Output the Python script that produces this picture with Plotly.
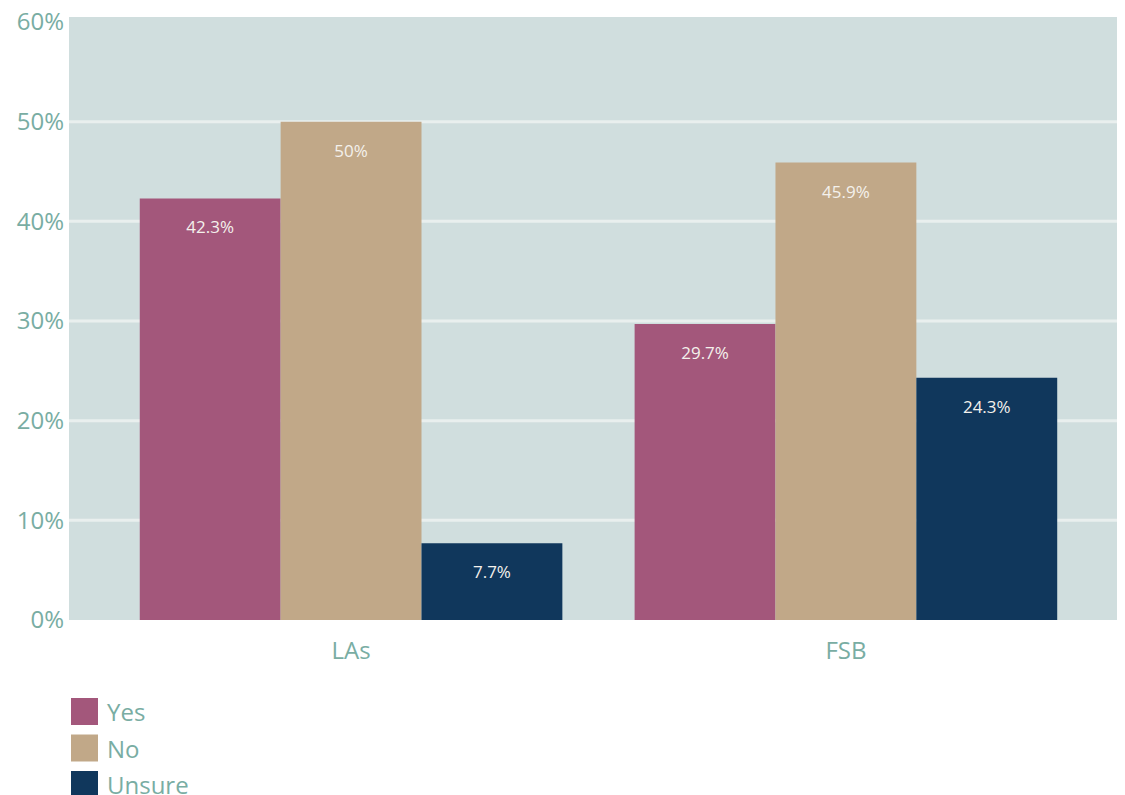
import plotly.graph_objects as go

categorias = ['LAs', 'FSB']
series = ['Yes', 'No', 'Unsure']
valores = {
    'Yes': [42.3, 29.7],
    'No': [50.0, 45.9],
    'Unsure': [7.7, 24.3],
}
etiquetas = {
    'Yes': ['42.3%', '29.7%'],
    'No': ['50%', '45.9%'],
    'Unsure': ['7.7%', '24.3%'],
}
ticks_y = [0, 10, 20, 30, 40, 50, 60]
ticks_y_texto = ['0%', '10%', '20%', '30%', '40%', '50%', '60%']
colores = {'Yes': '#a3577b', 'No': '#c1a888', 'Unsure': '#10375c'}

fuente = 'Open Sans'
verde = '#79ada3'

# la pagina tiene 8px de margen en el body
W, H = 1117, 787
L, R, T, B = 61, 0, 9, 175
plot_w = W - L - R
plot_h = H - T - B

fig = go.Figure()
for s in series:
    fig.add_trace(go.Bar(
        x=categorias, y=valores[s], name=s,
        marker=dict(color=colores[s], line=dict(width=0)),
        text=['<span style="font-size:9px"> </span><br>' + t for t in etiquetas[s]],
        textposition='inside', insidetextanchor='end',
        textfont=dict(family=fuente, size=17, color='#f4f1ec'),
        showlegend=False,
        hoverinfo='skip',
    ))

shapes = []
# lineas de grilla (sin la de 60%, que en el original no se ve)
for v in ticks_y[1:-1]:
    shapes.append(dict(type='line', xref='paper', yref='y', x0=0, x1=1, y0=v, y1=v,
                       line=dict(color='#e9efee', width=3), layer='below'))

# leyenda dibujada a mano para tener cuadrados grandes
annotations = []
for i, s in enumerate(series):
    top_px = 690 + i * 36.5
    y_top = (H - B - top_px) / plot_h
    y_bot = (H - B - top_px - 27) / plot_h
    shapes.append(dict(type='rect', xref='paper', yref='paper',
                       x0=2 / plot_w, x1=29 / plot_w, y0=y_bot, y1=y_top,
                       fillcolor=colores[s], line=dict(width=0)))
    annotations.append(dict(text=s, xref='paper', yref='paper',
                            x=36 / plot_w, y=(y_top + y_bot) / 2,
                            xanchor='left', yanchor='middle', showarrow=False,
                            font=dict(family=fuente, size=24, color=verde)))

fig.update_layout(
    width=W, height=H,
    margin=dict(l=L, r=R, t=T, b=B, autoexpand=False),
    paper_bgcolor='white',
    plot_bgcolor='#d0dede',
    barmode='group',
    bargap=0.146,
    bargroupgap=0,
    shapes=shapes,
    annotations=annotations,
    font=dict(family=fuente, color=verde),
)
fig.update_xaxes(
    range=[-0.57, 1.564], showgrid=False, zeroline=False, showline=False,
    tickfont=dict(family=fuente, size=24, color=verde), ticklabelstandoff=14,
    automargin=False,
)
fig.update_yaxes(
    range=[0, 60.5], tickvals=ticks_y, ticktext=ticks_y_texto,
    showgrid=False, zeroline=False,
    showline=False, tickfont=dict(family=fuente, size=24, color=verde),
    ticklabelstandoff=4, ticklabeloverflow='allow', automargin=False,
)

fig.write_html('out.html', config={'displayModeBar': False})
